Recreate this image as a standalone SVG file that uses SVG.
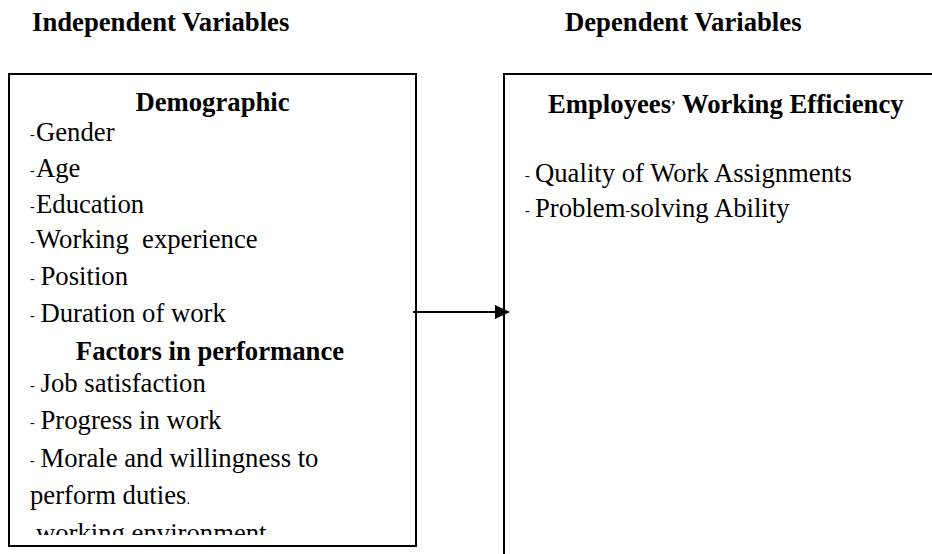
<svg xmlns="http://www.w3.org/2000/svg" width="932" height="554" viewBox="0 0 932 554">
  <style>
    text { font-family: "Liberation Serif", "Times New Roman", serif; font-size: 26.7px; fill: #000; }
    .b { font-weight: bold; }
    .d { font-size: 14px; }
    .box { fill: none; stroke: #000; stroke-width: 2; }
    .conn { stroke: #000; stroke-width: 2; fill: none; }
  </style>
  <defs>
    <clipPath id="leftClip">
      <rect x="9" y="74" width="407" height="461"/>
    </clipPath>
  </defs>
  <rect width="932" height="554" fill="#fff"/>

  <!-- column headings -->
  <text class="b" x="32" y="31">Independent Variables</text>
  <text class="b" x="565" y="31">Dependent Variables</text>

  <!-- independent variables box -->
  <g id="independent">
    <rect class="box" x="9" y="74" width="407" height="472"/>
    <g clip-path="url(#leftClip)">
      <text class="b" x="212.5" y="111" text-anchor="middle">Demographic</text>
      <text y="141"><tspan class="d" x="30" dy="-2">-</tspan><tspan x="36" dy="2">Gender</tspan></text>
      <text y="177"><tspan class="d" x="30" dy="-2">-</tspan><tspan x="36" dy="2">Age</tspan></text>
      <text y="213"><tspan class="d" x="30" dy="-2">-</tspan><tspan x="36" dy="2">Education</tspan></text>
      <text y="248"><tspan class="d" x="30" dy="-2">-</tspan><tspan x="36" dy="2" xml:space="preserve">Working  experience</tspan></text>
      <text y="285"><tspan class="d" x="30" dy="-2">-</tspan><tspan x="40.5" dy="2">Position</tspan></text>
      <text y="322"><tspan class="d" x="30" dy="-2">-</tspan><tspan x="40.5" dy="2">Duration of work</tspan></text>
      <text class="b" x="210" y="360" text-anchor="middle">Factors in performance</text>
      <text y="392"><tspan class="d" x="30" dy="-2">-</tspan><tspan x="40.5" dy="2">Job satisfaction</tspan></text>
      <text y="429"><tspan class="d" x="30" dy="-2">-</tspan><tspan x="40.5" dy="2">Progress in work</tspan></text>
      <text y="467"><tspan class="d" x="30" dy="-2">-</tspan><tspan x="40.5" dy="2">Morale and willingness to</tspan></text>
      <text y="504"><tspan x="30">perform duties</tspan><tspan class="d">.</tspan></text>
      <text y="542"><tspan class="d" x="30" dy="-2">-</tspan><tspan x="36" dy="2">working environment</tspan></text>
    </g>
  </g>

  <!-- dependent variables box -->
  <g id="dependent">
    <rect class="box" x="504" y="74" width="440" height="500"/>
    <text class="b" x="548" y="113">Employees<tspan class="d" dy="-2">’</tspan><tspan dy="2"> Working Efficiency</tspan></text>
    <text y="182"><tspan class="d" x="525" dy="-2">-</tspan><tspan x="535" dy="2">Quality of Work Assignments</tspan></text>
    <text y="217"><tspan class="d" x="525" dy="-2">-</tspan><tspan x="535" dy="2">Problem<tspan class="d" dy="-2">-</tspan><tspan dy="2">solving Ability</tspan></tspan></text>
  </g>

  <!-- connectors -->
  <g id="connectors">
    <line class="conn" x1="413" y1="312" x2="497" y2="312"/>
    <polygon points="495,305 510,312 495,319" fill="#000"/>
  </g>
</svg>
